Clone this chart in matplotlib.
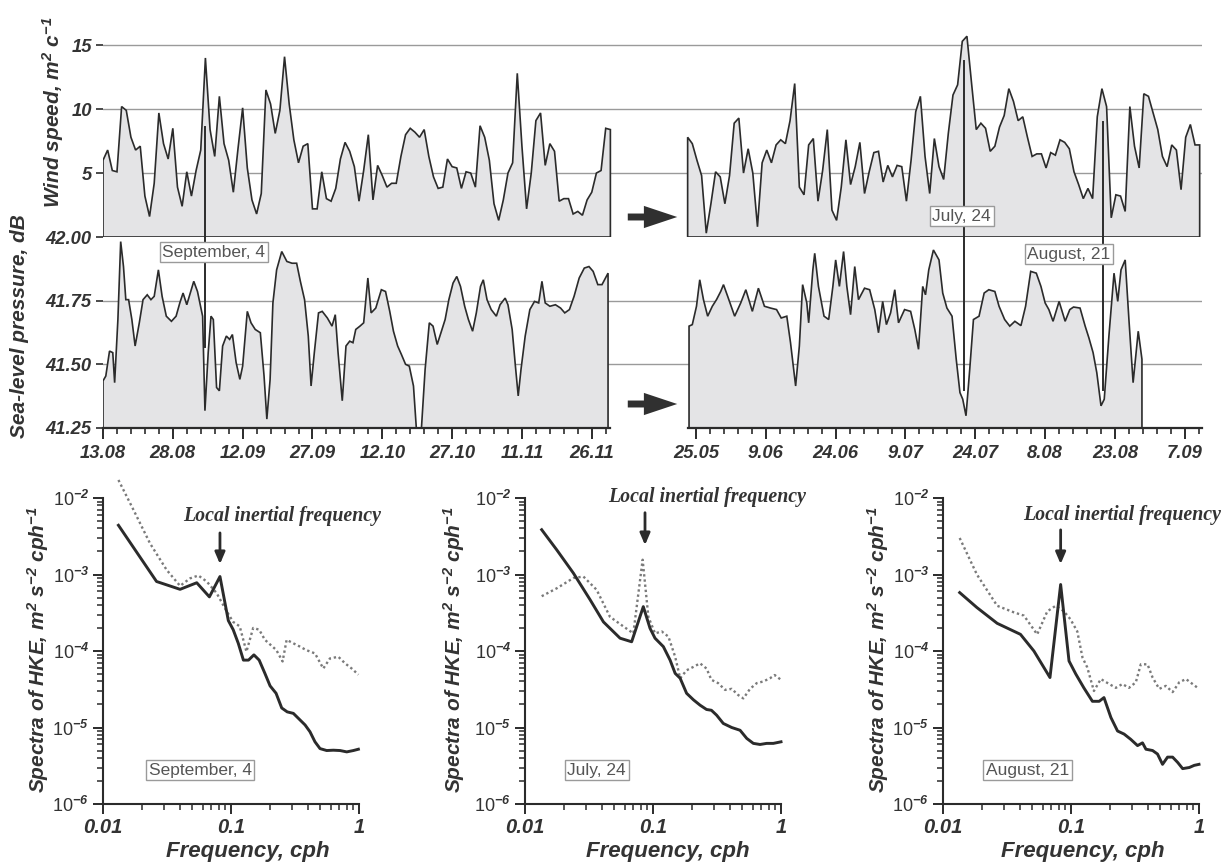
import numpy as np
import matplotlib.pyplot as plt

plt.rcParams['font.family'] = ['Liberation Sans', 'DejaVu Sans']
plt.rcParams['mathtext.fontset'] = 'custom'
plt.rcParams['mathtext.rm'] = 'Liberation Sans:bold:italic'
plt.rcParams['mathtext.it'] = 'Liberation Sans:bold:italic'
plt.rcParams['mathtext.bf'] = 'Liberation Sans:bold:italic'

# ---------------- data ----------------
# wind speed, daily; left record starts 13.08, right record starts 1.8 days before 25.05
wind_left = [6.0, 6.8, 5.2, 5.1, 10.2, 9.9, 7.8, 6.8, 7.1, 3.2, 1.6, 4.2, 9.7, 7.3, 6.1, 8.5, 3.9, 2.4, 5.1, 3.2,
             5.2, 6.8, 14.0, 8.4, 6.3, 11.0, 7.3, 6.0, 3.5, 6.9, 10.1, 5.4, 2.9, 1.8, 3.4, 11.5, 10.4, 8.1, 9.9, 14.1,
             10.4, 7.6, 5.8, 7.1, 7.3, 2.2, 2.2, 5.1, 3.0, 2.8, 3.8, 6.1, 7.4, 6.7, 5.5, 2.8, 5.2, 8.0, 2.9, 5.6,
             4.8, 3.9, 4.2, 4.2, 6.3, 8.0, 8.5, 8.2, 7.8, 8.4, 6.3, 4.7, 3.8, 3.9, 6.1, 5.5, 5.4, 3.8, 5.1, 5.0,
             3.9, 8.7, 7.8, 6.0, 2.6, 1.3, 2.9, 5.0, 5.8, 12.8, 7.1, 2.2, 5.0, 9.1, 9.7, 5.6, 7.3, 6.7, 2.8, 3.0,
             3.0, 1.8, 2.0, 1.7, 2.9, 3.5, 5.0, 5.2, 8.5, 8.4]
wind_right = [7.8, 7.3, 6.0, 4.8, 0.3, 2.6, 5.1, 4.7, 2.6, 4.8, 8.9, 9.3, 5.0, 6.9, 5.0, 0.8, 5.8, 6.8, 5.8, 7.2,
              7.6, 7.3, 9.1, 12.0, 3.9, 3.3, 7.2, 7.7, 2.8, 5.2, 8.4, 2.1, 1.3, 3.9, 7.6, 4.1, 5.5, 7.4, 3.4, 5.1,
              6.6, 6.7, 4.3, 5.6, 4.7, 5.6, 5.5, 2.8, 6.0, 9.8, 11.0, 6.3, 3.4, 7.7, 5.5, 4.5, 8.1, 11.1, 11.9, 15.3,
              15.7, 12.0, 8.4, 8.9, 8.5, 6.7, 7.1, 8.6, 9.5, 11.6, 10.6, 9.1, 9.4, 7.8, 6.3, 6.5, 6.5, 5.4, 6.6, 6.4,
              7.6, 7.4, 6.9, 5.1, 4.1, 3.0, 3.8, 3.0, 9.4, 11.6, 10.2, 1.5, 3.3, 3.2, 2.0, 10.2, 7.1, 5.4, 11.2, 11.0,
              9.7, 8.4, 6.3, 5.5, 7.2, 6.8, 3.7, 7.8, 8.8, 7.2, 7.2]
wind_right_start = -1.8

# sea-level pressure (days since 13.08 / days since 25.05)
press_left_day = [0.0, 0.6, 1.4, 2.1, 2.5, 3.2, 3.8, 4.4, 4.9, 5.5, 6.2, 6.9, 7.8, 8.6, 9.5, 10.3, 11.0, 11.9, 12.7, 13.6,
                  14.7, 15.7, 16.5, 17.2, 18.0, 19.5, 20.3, 21.4, 21.9, 22.6, 23.2, 23.7, 24.4, 25.0, 25.7, 26.5, 27.2,
                  27.8, 28.6, 29.4, 30.0, 31.0, 31.8, 32.7, 33.8, 34.6, 35.2, 35.9, 36.5, 37.3, 38.4, 39.5, 40.6, 41.6,
                  42.4, 43.3, 44.1, 44.7, 45.4, 46.3, 47.1, 48.2, 49.2, 49.9, 50.5, 51.4, 52.2, 53.0, 53.7, 54.3, 55.2,
                  56.0, 56.9, 57.6, 58.6, 59.8, 60.7, 61.6, 62.4, 63.3, 64.1, 65.0, 65.8, 66.7, 67.3, 67.8, 68.4, 69.2,
                  70.1, 70.9, 71.8, 72.6, 73.5, 74.3, 75.2, 76.0, 76.8, 77.7, 78.5, 79.4, 80.2, 81.1, 81.7, 82.5, 83.4,
                  84.5, 85.3, 86.4, 87.0, 87.9, 88.6, 89.2, 89.8, 90.7, 91.7, 92.7, 93.6, 94.3, 95.0, 96.0, 97.2, 98.3,
                  99.2, 100.2, 101.2, 102.3, 103.4, 104.4, 105.3, 106.3, 107.2, 108.5]
press_left = [41.435, 41.454, 41.552, 41.546, 41.428, 41.676, 41.982, 41.884, 41.754, 41.754, 41.676, 41.572, 41.663,
              41.754, 41.773, 41.754, 41.767, 41.871, 41.767, 41.689, 41.669, 41.689, 41.741, 41.780, 41.734, 41.826,
              41.786, 41.689, 41.318, 41.546, 41.689, 41.676, 41.409, 41.396, 41.572, 41.611, 41.598, 41.617, 41.507,
              41.441, 41.493, 41.708, 41.663, 41.637, 41.624, 41.454, 41.285, 41.441, 41.741, 41.871, 41.943, 41.904,
              41.897, 41.897, 41.826, 41.754, 41.611, 41.415, 41.546, 41.702, 41.708, 41.682, 41.650, 41.695, 41.546,
              41.357, 41.572, 41.591, 41.585, 41.637, 41.650, 41.663, 41.839, 41.702, 41.721, 41.793, 41.786, 41.708,
              41.630, 41.572, 41.539, 41.500, 41.493, 41.415, 41.253, 41.155, 41.246, 41.480, 41.663, 41.650, 41.578,
              41.624, 41.676, 41.754, 41.819, 41.845, 41.806, 41.728, 41.676, 41.630, 41.702, 41.806, 41.832, 41.754,
              41.715, 41.689, 41.734, 41.760, 41.734, 41.637, 41.493, 41.376, 41.480, 41.611, 41.715, 41.747, 41.741,
              41.826, 41.741, 41.728, 41.734, 41.721, 41.702, 41.715, 41.767, 41.839, 41.878, 41.884, 41.865, 41.813,
              41.813, 41.858]
press_right_day = [-1.5, -0.8, 0.1, 0.8, 1.6, 2.5, 3.5, 4.4, 5.3, 5.9, 6.8, 8.3, 9.6, 10.7, 12.1, 13.4, 14.7, 16.0,
                   17.3, 18.3, 19.5, 20.3, 21.4, 22.2, 22.9, 23.8, 24.2, 25.1, 25.5, 26.3, 27.5, 28.5, 29.4, 30.0,
                   30.8, 31.7, 32.4, 33.2, 34.1, 34.9, 36.2, 37.3, 38.4, 39.2, 40.1, 40.9, 41.8, 42.7, 43.5, 44.8,
                   46.1, 47.0, 47.8, 48.7, 49.3, 50.0, 51.0, 52.2, 53.0, 53.9, 55.0, 55.9, 56.7, 57.3, 58.0, 58.8,
                   59.6, 60.8, 61.9, 62.9, 64.2, 65.1, 66.3, 67.4, 68.5, 69.8, 70.8, 71.9, 73.1, 74.1, 75.0, 75.8,
                   76.7, 78.0, 79.3, 80.3, 81.1, 82.5, 83.6, 84.4, 85.3, 86.1, 87.0, 87.7, 88.7, 89.8, 90.6, 91.3,
                   92.2, 93.0, 93.9, 95.0, 95.8]
press_right = [41.650, 41.656, 41.728, 41.832, 41.754, 41.689, 41.728, 41.754, 41.786, 41.813, 41.767, 41.689, 41.741,
               41.793, 41.708, 41.799, 41.728, 41.721, 41.715, 41.682, 41.689, 41.585, 41.415, 41.572, 41.813, 41.741,
               41.663, 41.871, 41.936, 41.806, 41.689, 41.676, 41.806, 41.910, 41.806, 41.943, 41.806, 41.695, 41.884,
               41.754, 41.799, 41.793, 41.715, 41.624, 41.747, 41.656, 41.702, 41.793, 41.663, 41.715, 41.708, 41.637,
               41.559, 41.806, 41.773, 41.871, 41.949, 41.910, 41.780, 41.721, 41.689, 41.520, 41.389, 41.363, 41.298,
               41.480, 41.676, 41.689, 41.780, 41.793, 41.786, 41.728, 41.676, 41.650, 41.669, 41.652, 41.728, 41.865,
               41.858, 41.806, 41.741, 41.715, 41.669, 41.747, 41.669, 41.715, 41.725, 41.721, 41.650, 41.604, 41.546,
               41.467, 41.337, 41.363, 41.611, 41.858, 41.747, 41.871, 41.910, 41.676, 41.428, 41.630, 41.520]

left_dates = ['13.08', '28.08', '12.09', '27.09', '12.10', '27.10', '11.11', '26.11']
right_dates = ['25.05', '9.06', '24.06', '9.07', '24.07', '8.08', '23.08', '7.09']

# events: (day, wind top, pressure bottom)
events = ['September, 4', 'July, 24', 'August, 21']
event_day = [22.0, 57.5, 87.4]          # first in left record, others in right record
event_wind = [8.6, 13.8, 9.0]
event_press = [41.57, 41.40, 41.40]

# HKE spectra: solid (black) and dotted (grey)
s1_f_solid = [0.0132, 0.0262, 0.040, 0.054, 0.0678, 0.082, 0.0953, 0.104, 0.114, 0.125, 0.137, 0.151, 0.166, 0.184,
              0.202, 0.225, 0.249, 0.275, 0.307, 0.342, 0.379, 0.414, 0.453, 0.496, 0.559, 0.630, 0.711, 0.802, 0.904, 0.989]
s1_solid = [4.4e-3, 8.1e-4, 6.4e-4, 7.8e-4, 5.1e-4, 9.4e-4, 2.5e-4, 1.9e-4, 1.26e-4, 7.6e-5, 7.6e-5, 8.9e-5, 7.6e-5,
            5.1e-5, 3.5e-5, 2.8e-5, 1.8e-5, 1.6e-5, 1.53e-5, 1.28e-5, 1.08e-5, 8.8e-6, 6.5e-6, 5.3e-6, 5.0e-6, 5.05e-6,
            5.0e-6, 4.8e-6, 5.0e-6, 5.2e-6]
s1_f_dot = [0.0132, 0.0173, 0.0233, 0.0314, 0.040, 0.0479, 0.0556, 0.0646, 0.0773, 0.0925, 0.104, 0.117, 0.132, 0.149,
            0.166, 0.184, 0.204, 0.226, 0.253, 0.272, 0.307, 0.346, 0.386, 0.453, 0.526, 0.593, 0.690, 0.778, 0.877, 0.989]
s1_dot = [1.72e-2, 7.0e-3, 2.55e-3, 1.15e-3, 7.1e-4, 8.9e-4, 9.7e-4, 8.1e-4, 5.7e-4, 3.3e-4, 2.4e-4, 2.1e-4, 9.8e-5,
          2.0e-4, 1.9e-4, 1.4e-4, 1.2e-4, 1.03e-4, 7.3e-5, 1.4e-4, 1.26e-4, 1.14e-4, 1.03e-4, 9.3e-5, 5.9e-5, 8.0e-5,
          8.4e-5, 6.9e-5, 5.9e-5, 4.9e-5]

s2_f_solid = [0.0135, 0.0177, 0.0239, 0.0322, 0.0410, 0.0553, 0.0681, 0.0840, 0.0948, 0.1037, 0.1205, 0.136, 0.149,
              0.163, 0.183, 0.207, 0.233, 0.262, 0.286, 0.314, 0.354, 0.412, 0.479, 0.540, 0.608, 0.686, 0.773, 0.871, 1.0]
s2_solid = [3.85e-3, 2.1e-3, 1.04e-3, 4.7e-4, 2.4e-4, 1.47e-4, 1.32e-4, 3.8e-4, 1.98e-4, 1.47e-4, 1.14e-4, 7.6e-5,
            5.1e-5, 4.4e-5, 2.8e-5, 2.3e-5, 1.96e-5, 1.72e-5, 1.68e-5, 1.45e-5, 1.13e-5, 1.0e-5, 9.2e-6, 7.2e-6, 6.2e-6,
            6.0e-6, 6.2e-6, 6.2e-6, 6.5e-6]
s2_f_dot = [0.0135, 0.0177, 0.0239, 0.0286, 0.0363, 0.0461, 0.0586, 0.0702, 0.083, 0.092, 0.1037, 0.117, 0.132, 0.149,
            0.163, 0.183, 0.207, 0.233, 0.262, 0.286, 0.323, 0.366, 0.412, 0.464, 0.508, 0.573, 0.646, 0.728, 0.820,
            0.893, 1.0]
s2_dot = [5.2e-4, 6.6e-4, 9.0e-4, 9.4e-4, 6.3e-4, 2.8e-4, 2.1e-4, 1.7e-4, 1.56e-3, 2.8e-4, 1.7e-4, 1.8e-4, 1.54e-4,
          8.4e-5, 4.4e-5, 5.6e-5, 6.2e-5, 6.9e-5, 5.9e-5, 4.2e-5, 3.8e-5, 3.1e-5, 3.2e-5, 2.65e-5, 2.4e-5, 3.2e-5,
          3.8e-5, 4.0e-5, 4.4e-5, 4.85e-5, 4.2e-5]

s3_f_solid = [0.0135, 0.0184, 0.0265, 0.0403, 0.0513, 0.0685, 0.083, 0.0965, 0.109, 0.126, 0.147, 0.166, 0.181, 0.205,
              0.231, 0.260, 0.293, 0.331, 0.362, 0.385, 0.434, 0.474, 0.519, 0.568, 0.622, 0.681, 0.745, 0.840, 0.918, 1.0]
s3_solid = [5.8e-4, 3.7e-4, 2.3e-4, 1.65e-4, 1.0e-4, 4.5e-5, 7.4e-4, 7.4e-5, 5.0e-5, 3.3e-5, 2.2e-5, 2.2e-5, 2.46e-5,
            1.35e-5, 9.0e-6, 8.2e-6, 7.0e-6, 5.8e-6, 6.3e-6, 5.2e-6, 5.0e-6, 4.5e-6, 3.3e-6, 4.1e-6, 4.1e-6, 3.5e-6,
            2.9e-6, 3.0e-6, 3.2e-6, 3.3e-6]
s3_f_dot = [0.0135, 0.0184, 0.0265, 0.0358, 0.0429, 0.0544, 0.0653, 0.0759, 0.0881, 0.099, 0.112, 0.123, 0.134, 0.151,
            0.171, 0.199, 0.224, 0.252, 0.284, 0.321, 0.351, 0.396, 0.434, 0.489, 0.551, 0.622, 0.701, 0.791, 0.891, 1.0]
s3_dot = [3.0e-3, 1.0e-3, 3.9e-4, 3.2e-4, 2.9e-4, 1.65e-4, 3.3e-4, 3.9e-4, 3.3e-4, 2.6e-4, 1.8e-4, 8.2e-5, 6.1e-5,
          3.0e-5, 4.3e-5, 3.7e-5, 3.3e-5, 3.7e-5, 3.3e-5, 3.9e-5, 6.7e-5, 6.7e-5, 4.5e-5, 3.2e-5, 3.5e-5, 2.9e-5,
          3.9e-5, 4.3e-5, 3.7e-5, 3.2e-5]
inertial_f = [0.082, 0.0866, 0.083]

# ---------------- layout ----------------
W, H = 1230, 864
GAP = 127.4          # x position of 25.05 on the broken time axis
DARK = '#2b2b2b'
GRID = '#9a9a9a'
FILL = '#e4e4e6'


def box(l, t, r, b):
    return [l / W, 1 - b / H, (r - l) / W, (b - t) / H]


def fpx(x, y):
    return x / W, 1 - y / H


fig = plt.figure(figsize=(12.3, 8.64), dpi=100)
ax_w = fig.add_axes(box(103, 26, 1202, 237))
ax_p = fig.add_axes(box(103, 237, 1202, 428))

tfont = dict(fontsize=13.2, fontweight='bold', fontstyle='italic', color='#333333')


def filled(ax, x, y, base):
    xs = np.concatenate([[x[0]], x, [x[-1]]])
    ys = np.concatenate([[base], y, [base]])
    ax.fill(xs, ys, facecolor=FILL, edgecolor=DARK, lw=1.2, zorder=2)


wl_x = np.arange(len(wind_left))
wr_x = GAP + wind_right_start + np.arange(len(wind_right))
filled(ax_w, wl_x, np.array(wind_left), 0)
filled(ax_w, wr_x, np.array(wind_right), 0)
filled(ax_p, np.array(press_left_day), np.array(press_left), 41.25)
filled(ax_p, GAP + np.array(press_right_day), np.array(press_right), 41.25)

xmax = 236.1
for ax in (ax_w, ax_p):
    ax.set_xlim(0, xmax)
    for s in ax.spines.values():
        s.set_visible(False)
    ax.patch.set_alpha(0)

ax_w.set_ylim(0, 16.5)
for v in (5, 10, 15):
    ax_w.axhline(v, color=GRID, lw=1, zorder=1)
ax_w.set_yticks([5, 10, 15])
ax_w.set_yticklabels(['5', '10', '15'], **tfont)
ax_w.set_xticks([])
ax_w.tick_params(axis='y', length=5, width=1.2, color=DARK, pad=3)

ax_p.set_ylim(41.25, 42.0)
for v in (41.5, 41.75):
    ax_p.axhline(v, color=GRID, lw=1, zorder=1)
ax_p.set_yticks([41.25, 41.5, 41.75, 42.0])
ax_p.set_yticklabels(['41.25', '41.50', '41.75', '42.00'], **tfont)
ax_p.tick_params(axis='y', length=5, width=1.2, color=DARK, pad=3)

major = [15 * i for i in range(8)] + [GAP + 15 * i for i in range(8)]
minor = [d for d in range(0, 110, 3) if d % 15] + [GAP + d for d in range(3, 109, 3) if d % 15]
ax_p.set_xticks(major)
ax_p.set_xticklabels(left_dates + right_dates, **tfont)
ax_p.set_xticks(minor, minor=True)
ax_p.tick_params(axis='x', which='major', length=8, width=1.4, color=DARK, pad=4)
ax_p.tick_params(axis='x', which='minor', length=4, width=1.2, color=DARK)
ax_p.plot([0, 108.9], [41.25, 41.25], color=DARK, lw=1.6, clip_on=False, zorder=4)
ax_p.plot([GAP - 1.7, xmax], [41.25, 41.25], color=DARK, lw=1.6, clip_on=False, zorder=4)

# event markers across both panels
ev_x = [event_day[0], GAP + event_day[1], GAP + event_day[2]]
for x, wt, pb in zip(ev_x, event_wind, event_press):
    ax_w.plot([x, x], [wt, 0], color=DARK, lw=1.4, zorder=3, clip_on=False)
    ax_p.plot([x, x], [42.0, pb], color=DARK, lw=1.4, zorder=3)

lbl_box = dict(boxstyle='square,pad=0.15', facecolor='white', edgecolor='#9a9a9a', lw=1)
ax_p.text(23.8, 41.94, events[0], fontsize=12.5, color='#555555', ha='center', va='center', bbox=lbl_box, zorder=5)
ax_w.text(184.5, 1.64, events[1], fontsize=12.5, color='#555555', ha='center', va='center', bbox=lbl_box, zorder=5)
ax_p.text(207.5, 41.933, events[2], fontsize=12.5, color='#555555', ha='center', va='center', bbox=lbl_box, zorder=5)

# big arrows between the two records
for y in (217, 404):
    fig.add_artist(plt.matplotlib.patches.FancyArrowPatch(
        fpx(625, y), fpx(680, y), transform=fig.transFigure,
        arrowstyle='simple,head_length=2.4,head_width=1.6,tail_width=0.5',
        mutation_scale=10, color='#303030', lw=0))

fig.text(*fpx(53, 112), 'Wind speed, m$^2$ c$^{-1}$', rotation=90, ha='center', va='center',
         fontsize=15, fontweight='bold', fontstyle='italic', color='#333333')
fig.text(*fpx(20, 326), 'Sea-level pressure, dB', rotation=90, ha='center', va='center',
         fontsize=15, fontweight='bold', fontstyle='italic', color='#333333')

# ---------------- spectra ----------------
spec_lefts = [103, 525, 943]
spec_solid = [(s1_f_solid, s1_solid), (s2_f_solid, s2_solid), (s3_f_solid, s3_solid)]
spec_dot = [(s1_f_dot, s1_dot), (s2_f_dot, s2_dot), (s3_f_dot, s3_dot)]
note_xy = [(0.38, 0.11), (0.28, 0.11), (0.33, 0.11)]
lif_xy = [(0.70, 0.94), (0.71, 1.003), (0.70, 0.944)]
arrow_y = [(0.895, 0.775), (0.961, 0.837), (0.905, 0.775)]
ylab_x = [38, 454, 878]
flab_x = [248, 668, 1083]

for i, l in enumerate(spec_lefts):
    ax = fig.add_axes(box(l, 498, l + 256, 804))
    ax.set_xscale('log')
    ax.set_yscale('log')
    ax.set_xlim(0.01, 1)
    ax.set_ylim(1e-6, 1e-2)
    ax.plot(*spec_dot[i], color='#7a7a7a', lw=1.7, ls=(0, (1, 1.2)), clip_on=False)
    ax.plot(*spec_solid[i], color=DARK, lw=2.1, clip_on=False)
    for s in ('top', 'right'):
        ax.spines[s].set_visible(False)
    for s in ('left', 'bottom'):
        ax.spines[s].set_linewidth(1.5)
        ax.spines[s].set_color(DARK)
    ax.set_xticks([0.01, 0.1, 1])
    ax.set_xticklabels(['0.01', '0.1', '1'], fontsize=14.5, fontweight='bold', fontstyle='italic', color='#333333')
    ax.set_yticks([1e-6, 1e-5, 1e-4, 1e-3, 1e-2])
    ax.set_yticklabels(['10$^{-6}$', '10$^{-5}$', '10$^{-4}$', '10$^{-3}$', '10$^{-2}$'], fontsize=13, color='#333333')
    ax.tick_params(which='major', direction='out', length=7, width=1.4, color=DARK, pad=3)
    ax.tick_params(which='minor', direction='out', length=4, width=1.1, color=DARK)
    ax.xaxis.set_minor_formatter(plt.NullFormatter())
    ax.yaxis.set_minor_formatter(plt.NullFormatter())
    ax.text(*note_xy[i], events[i], transform=ax.transAxes, fontsize=12.5, color='#555555',
            ha='center', va='center', bbox=lbl_box)
    ax.text(*lif_xy[i], 'Local inertial frequency', transform=ax.transAxes, ha='center', va='center',
            family='Liberation Serif', fontsize=14.3, fontweight='bold', fontstyle='italic', color='#333333')
    ax.annotate('', xy=(inertial_f[i], arrow_y[i][1]), xytext=(inertial_f[i], arrow_y[i][0]),
                xycoords=('data', 'axes fraction'), textcoords=('data', 'axes fraction'),
                arrowprops=dict(arrowstyle='-|>,head_length=0.7,head_width=0.3', color=DARK, lw=2))
    fig.text(*fpx(ylab_x[i], 650), 'Spectra of HKE, m$^2$ s$^{-2}$ cph$^{-1}$', rotation=90,
             ha='center', va='center', fontsize=15, fontweight='bold', fontstyle='italic', color='#333333')
    fig.text(*fpx(flab_x[i], 852), 'Frequency, cph', ha='center', va='center',
             fontsize=16, fontweight='bold', fontstyle='italic', color='#333333')

fig.savefig('out.png', dpi=100)
